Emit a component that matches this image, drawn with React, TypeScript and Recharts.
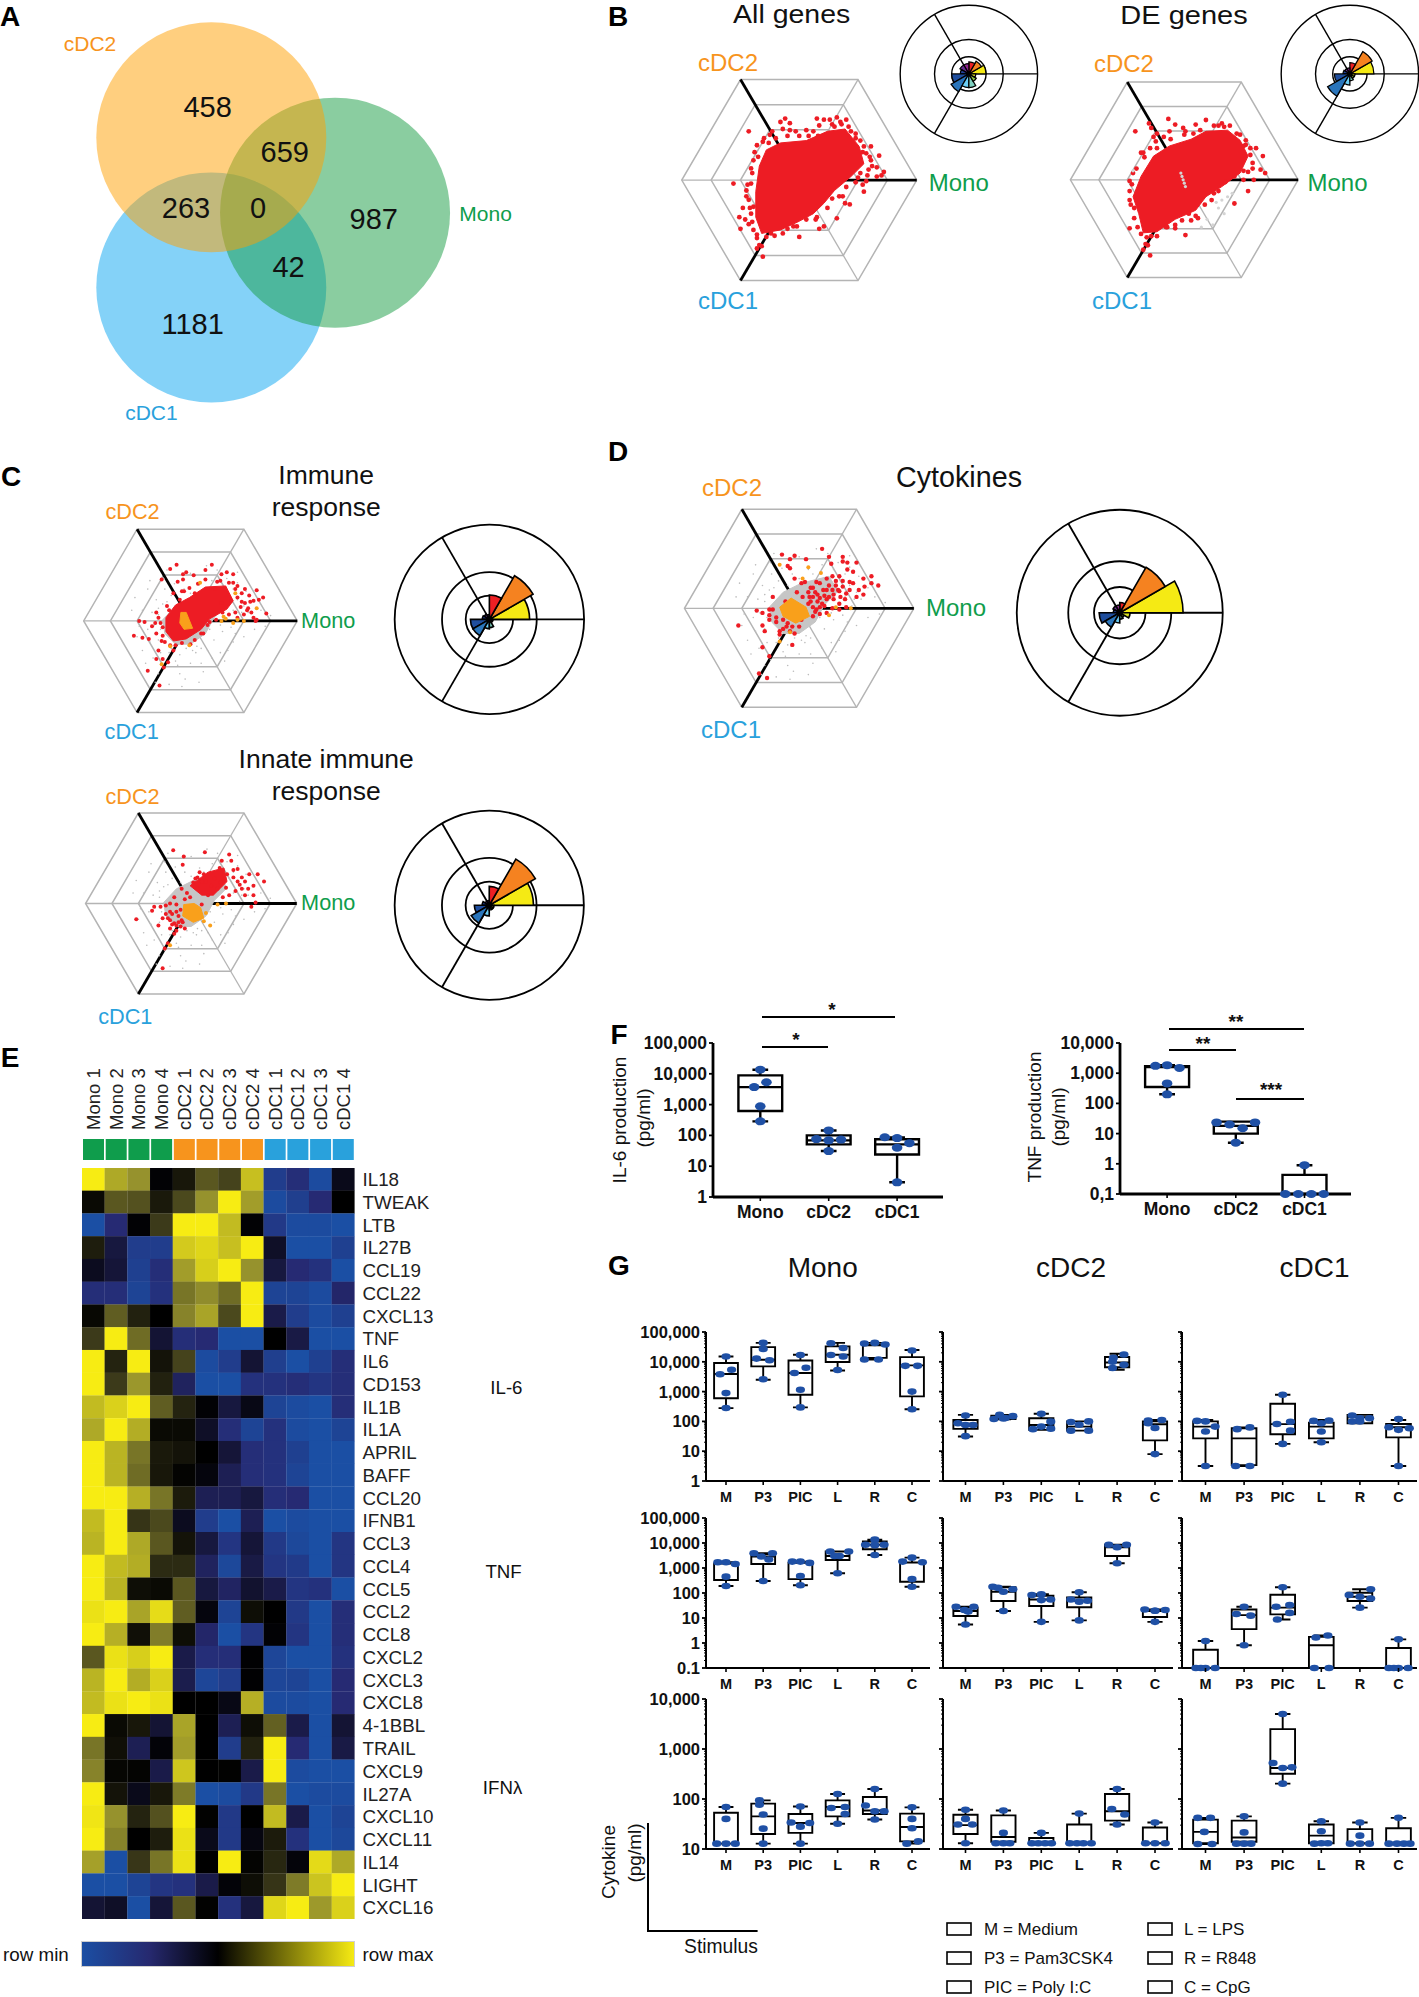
import React from "react"
import { Bar, BarChart, Cell, Pie, PieChart, PolarGrid, Scatter, ScatterChart, XAxis, YAxis } from "recharts"

const FONT = "'Liberation Sans', Arial, sans-serif"
const ORANGE = "#f7941d"
const GREEN = "#0f9d4c"
const BLUE = "#29a1dc"
const RED = "#ed1c24"
const DOT = "#1f50a5"
const HEX_GREY = "#b4b4b4"

// panel A
const vennSets = [
  { name: "cDC1", x: 0, y: -0.65, fill: "#09a5f1" },
  { name: "Mono", x: 1.076, y: 0, fill: "#159b41" },
  { name: "cDC2", x: 0, y: 0.655, fill: "#ff9f00" },
]

// panels B, C, D: gene positions on the triwise hexagon (outer ring = 100)
const allCore = [[-28,26],[-16,32],[6,34],[24,42],[39,44],[51,29],[55,14],[44,3],[30,-9],[21,-20],[12,-29],[-1,-36],[-16,-43],[-32,-46],[-37,-32],[-37,-10],[-34,12]]
const allGenes = [[-12,53],[-16,50],[-8,49],[-14,44],[-23,42],[-25,39],[-31,33],[-43,42],[6,43],[-3,42],[-8,43],[21,52],[35,50],[36,48],[28,48],[17,47],[12,42],[48,40],[52,34],[44,42],[55,29],[61,29],[57,23],[68,21],[61,17],[66,11],[72,7],[70,4],[66,3],[59,9],[52,6],[55,-10],[57,-1],[39,-20],[43,-21],[37,-14],[28,-16],[32,-33],[21,-40],[17,-42],[0,-49],[15,-32],[6,-34],[-5,-40],[-14,-46],[-21,-48],[-32,-57],[-34,-56],[-31,-66],[-36,-59],[-28,-49],[-51,-32],[-50,-42],[-43,-38],[-39,-43],[-36,-47],[-56,-3],[-45,-9],[-43,-17],[-39,-23],[-41,-29],[-41,10],[-38,24],[-36,30],[-30,36],[-45,-14],[-41,-3],[-39,17],[26,52],[15,53],[40,52],[32,54],[-40,-36],[24,-24],[14,-34],[34,-14],[40,-6],[48,-2],[50,2],[54,-4],[58,4],[60,20],[54,24],[48,36],[42,46],[-2,-40],[-10,-42],[-24,-46],[-36,-50],[-42,-24],[-40,6],[-35,20],[-26,32],[-20,36],[-10,38],[0,38],[8,38],[16,38],[30,46],[62,12],[-44,-4],[-48,-24],[-46,-34]]
const deCore = [[-27,21],[-13,30],[6,36],[19,43],[38,44],[49,35],[56,21],[49,6],[33,-6],[19,-15],[10,-27],[-8,-35],[-24,-46],[-36,-47],[-40,-30],[-45,-15],[-38,3]]
const deGenes = [[-14,54],[-8,49],[-31,50],[-29,46],[-24,41],[-25,34],[-43,43],[-27,38],[-13,43],[-1,46],[10,49],[19,53],[33,50],[35,47],[26,48],[49,40],[46,41],[54,31],[63,28],[58,22],[69,21],[60,15],[67,9],[71,6],[56,7],[52,0],[61,0],[56,-10],[44,-21],[30,-10],[24,-18],[12,-34],[6,-36],[1,-49],[-8,-40],[-15,-42],[-24,-50],[-32,-58],[-34,-57],[-30,-67],[-36,-62],[-29,-50],[-48,-43],[-38,-48],[-33,-51],[-48,-18],[-48,-10],[-45,6],[-36,24],[-38,24],[-48,-1],[-44,-25],[-30,28],[-18,38],[1,43],[8,41],[58,28],[54,35],[-35,20],[-42,10],[-46,-4],[-47,-22],[-44,-34],[-41,-42],[-16,-42],[-2,-36],[10,-32],[18,-22],[26,-12],[36,-2],[44,3],[52,8],[60,10],[52,30],[40,48],[30,48],[14,44],[0,40],[-12,36],[-24,28],[-8,-43],[4,-30]]
const nonDeGenes = [[33,-18],[38,-15],[30,-25],[42,-12],[20,-35],[25,-40],[15,-42],[35,-30],[28,-20],[-45,8],[-2,3],[0,-3],[-1,0],[-3,6],[1,-6]]

const greyCore = [[-26,1],[-14,14],[2,22],[26,28],[34,15],[22,3],[14,-12],[0,-22],[-14,-22],[-24,-12]]
const greyGenes = [[-40,30],[-45,10],[-35,-35],[-25,-45],[-10,-50],[0,-40],[10,-40],[20,-35],[28,-30],[-50,-15],[-45,-28],[-30,-50],[-5,-55],[5,-30],[-38,38],[-25,40],[-32,20],[70,-5],[50,-15],[40,-20],[35,-28],[60,-8],[75,5],[-48,-5],[-55,10],[-20,-60],[25,48],[0,45],[-15,35],[-42,-40],[-12,-42],[-28,-30],[12,-48],[-38,-20],[-52,22],[32,-38],[8,-58],[-22,48],[15,52],[44,46],[-8,-62],[-33,-58],[-30,12],[-34,-4],[-30,-18],[-20,-30],[-10,-32],[6,-24],[22,-18],[30,-10],[38,-6],[46,2],[54,8],[60,18],[52,28],[44,36],[34,40],[20,38],[8,34],[-6,30],[-18,24],[-26,16],[-36,8],[-24,30],[-40,-8],[-14,-38],[16,-28],[42,-12],[66,10],[40,30],[30,34],[36,24],[44,20],[50,14],[28,-4],[18,-8],[10,-26],[2,-28],[-4,-26],[-18,-26],[-28,-8],[-30,6],[-22,18],[-10,20],[0,26],[12,30],[40,10],[48,8]]

const immuneCore = [[-23,3],[-14,15],[-1,22],[14,32],[33,33],[40,19],[34,11],[18,2],[10,-8],[-4,-17],[-16,-19],[-23,-10]]
const immuneGenes = [[-13,53],[-19,49],[-4,46],[-7,44],[-27,39],[-12,37],[-7,39],[3,43],[14,48],[20,53],[34,46],[40,44],[29,44],[44,33],[51,30],[62,29],[68,22],[59,19],[64,20],[71,7],[57,8],[62,1],[59,3],[51,17],[55,24],[-43,-1],[-48,0],[-36,-5],[-33,-2],[-53,-14],[-45,-16],[-39,-17],[-32,-12],[-30,-28],[-26,-36],[-32,-36],[-40,-47],[-25,-44],[-21,-39],[-29,-61],[-16,-28],[-19,-23],[-27,-19],[-30,3],[-32,8],[29,17],[44,22],[38,19],[47,13],[53,10],[25,37],[23,30],[14,39],[7,35],[-1,31],[-6,28],[-16,26],[-14,-23],[-8,-21],[12,-12],[18,-1],[24,1],[44,3],[61,0],[42,30],[48,26],[56,18],[36,36],[-26,-14],[-26,-6],[-20,10],[-10,20],[4,26],[10,-12],[4,-18],[30,8],[36,6],[50,6],[28,38],[40,36],[48,18],[54,12],[42,8],[-24,-20],[-28,-2],[-22,14],[-8,28],[0,-22],[16,-4]]
const immuneCyto = [[29,0],[33,2],[44,1],[50,0],[40,-2],[31,4],[62,12],[42,26],[9,36],[-1,-23],[-27,-41],[-19,-24]]
const immuneCytoCore = [[-9,8],[-4,8],[0,-2],[2,-7],[-6,-8],[-10,-2]]

const innateCore = [[-1,17],[16,30],[31,34],[34,21],[21,8],[10,8]]
const innateGenes = [[-17,51],[-8,37],[-7,45],[13,49],[36,47],[38,41],[29,41],[27,34],[44,33],[55,28],[63,28],[69,21],[59,17],[51,21],[48,14],[59,8],[61,1],[57,-3],[-35,-3],[-37,-7],[-52,-15],[-29,-3],[-27,-14],[-31,-21],[-25,-43],[-22,-38],[-16,-29],[-27,-62],[-14,-21],[-9,14],[6,25],[14,21],[6,14],[19,17],[25,14],[33,15],[40,25],[34,28],[-20,-8],[-14,-1],[-9,-16],[-16,-19],[10,21],[16,8],[10,-1],[-1,6],[-16,6],[44,21],[48,25],[51,8],[-22,-14],[-18,-20],[-10,-6],[-24,-2],[-12,-12],[-6,4],[22,24],[28,20],[-18,-10],[-12,-18],[-20,0],[-8,-18],[-4,10],[2,20],[12,28],[42,12],[36,8],[30,6],[-24,-10],[-20,-16],[-14,-8],[-20,-24],[-14,-26],[-10,-22],[-6,-24],[4,24],[8,30],[40,32],[46,18],[54,14]]
const innateCyto = [[18,-21],[25,-1],[33,0],[-20,-40],[12,-17],[14,-9]]
const innateCytoCore = [[-7,-1],[3,0],[9,-4],[12,-14],[2,-18],[-8,-12]]

const cytokineCytoCore = [[-17,1],[-7,9],[6,1],[9,-7],[-3,-13],[-14,-7]]
const cytokineGenes = [[20,52],[-15,47],[-4,46],[-8,43],[6,43],[-10,37],[-8,35],[26,45],[28,39],[38,45],[38,41],[42,40],[50,40],[42,34],[35,28],[29,28],[47,32],[56,26],[63,28],[69,20],[63,22],[57,19],[47,22],[44,23],[38,19],[41,13],[56,12],[50,10],[35,15],[29,16],[21,16],[15,23],[2,22],[-4,26],[5,23],[12,10],[18,9],[9,10],[3,10],[12,1],[15,-1],[12,-7],[-23,10],[-23,-1],[-37,-2],[-32,-4],[-26,-1],[-53,-15],[-32,-15],[-30,-20],[-26,-10],[-20,-12],[-14,-10],[-10,-13],[2,-10],[-17,-20],[-11,-16],[-6,-16],[-32,-34],[-6,-32],[-26,-42],[-35,-57],[-28,-61],[-17,-23],[35,-1],[41,1],[24,-4],[29,0],[35,4],[18,1],[10,6],[16,6],[22,11],[26,20],[14,14],[20,4],[24,8],[30,12],[8,14],[14,-3],[18,-5],[10,18],[16,12],[24,16],[32,20],[36,10],[44,16],[52,16],[30,8],[22,2],[8,4],[-2,14],[-12,6],[-20,-8],[-26,-6],[-14,-18],[-8,-20],[-4,-22],[0,-16],[26,10],[18,22],[12,18],[24,26],[32,24],[38,24],[40,8],[34,16]]
const cytokineOrange = [[8,36],[3,26],[-17,38],[26,-6],[45,0],[32,1],[-17,-29],[-8,-21],[19,31]]

// rose plots, twelve 30 degree sectors counter-clockwise from Mono
const sectorColors = ["#f5ea14", "#f58220", "#ed2024", "#92278f", "#662d91", "#21409a", "#1f4e9e", "#2a75bb", "#6dcff6", "#7fd1c0", "#8dc63f", "#d7df23"]
const roseAll = [1.0, 0.85, 0.7, 0.6, 0.6, 0.5, 1.0, 1.2, 0.8, 0.8, 0.5, 0.4]
const roseDe = [1.4, 1.5, 0.65, 0.35, 0.35, 0.4, 0.9, 1.5, 0.65, 0.4, 0.3, 0.3]
const roseImmune = [1.7, 2.13, 1.03, 0.2, 0.25, 0.3, 0.8, 0.8, 0.4, 0.35, 0.15, 0.15]
const roseInnate = [1.87, 2.25, 0.8, 0.2, 0.2, 0.3, 0.63, 0.88, 0.45, 0.2, 0.2, 0.2]
const roseCytokine = [2.46, 2.04, 0.4, 0.3, 0.3, 0.25, 0.8, 0.65, 0.4, 0.25, 0.2, 0.4]

// panel E
const genes = ["IL18","TWEAK","LTB","IL27B","CCL19","CCL22","CXCL13","TNF","IL6","CD153","IL1B","IL1A","APRIL","BAFF","CCL20","IFNB1","CCL3","CCL4","CCL5","CCL2","CCL8","CXCL2","CXCL3","CXCL8","4-1BBL","TRAIL","CXCL9","IL27A","CXCL10","CXCL11","IL14","LIGHT","CXCL16"]
const samples = ["Mono 1","Mono 2","Mono 3","Mono 4","cDC2 1","cDC2 2","cDC2 3","cDC2 4","cDC1 1","cDC1 2","cDC1 3","cDC1 4"]
const sampleColors = [GREEN, GREEN, GREEN, GREEN, ORANGE, ORANGE, ORANGE, ORANGE, BLUE, BLUE, BLUE, BLUE]
const expression = [
  [1,.7,.6,-.02,.12,.4,.33,.8,-.75,-.55,-.95,-.1],
  [.05,.4,.38,.13,.35,.6,1,.65,-.95,-.78,-.5,0],
  [-1,-.5,-.02,.3,1,1,.78,-.02,-.7,-.95,-.95,-1],
  [.15,-.25,-.75,-.75,.85,.9,.8,1,-.15,-1,-1,-.8],
  [-.12,-.22,-.8,-.55,.65,.87,1,.6,-.25,-.5,-.6,-1],
  [-.55,-.55,-.85,-.6,.5,.58,.47,1,-.85,-.85,-.95,-.45],
  [.04,.42,.17,0,.55,.68,.35,1,-.3,-.75,-.95,-.8],
  [.3,1,.47,-.2,-.55,-.5,-1,-1,0,-.28,-1,-1],
  [1,.18,1,.1,.33,-.95,-.75,-.2,-.78,-1,-.8,-.55],
  [1,.3,.62,.17,-.4,-1,-1,-.6,-.6,-.55,-.65,-.55],
  [.78,.88,1,.42,.18,-.02,-.25,-.08,-.85,-.95,-1,-.55],
  [.7,1,.72,.05,.05,-.15,-.55,-.85,-.6,-.95,-1,-.85],
  [1,.75,.5,.13,.1,0,-.22,-.55,-.6,-.8,-1,-1],
  [1,.75,.47,.12,.02,-.05,-.35,-.55,-.6,-.85,-1,-1],
  [1,1,.73,.5,.14,-.35,-.35,-.25,-.55,-.5,-1,-1],
  [.78,1,.27,.35,-.12,-.75,-1,-.35,-1,-.95,-1,-1],
  [.75,1,.7,.4,.1,-.25,-.65,-.22,-.7,-.9,-1,-.65],
  [1,.78,.72,.22,.22,-.4,-.9,-.28,-.65,-.72,-1,-.65],
  [1,.75,.07,.05,.4,-.25,-.42,-.18,-.3,-.65,-.6,-1],
  [.95,1,.68,.93,.42,-.05,-.85,.07,0,-.7,-1,-.55],
  [1,.73,.08,.53,.07,-.45,-1,-.65,-.02,-.65,-1,-.55],
  [.4,.95,.87,1,-.3,-.55,-.55,-.01,-.88,-1,-1,-.6],
  [.75,1,.72,.88,-.32,-.88,-.75,-.01,-.88,-.85,-1,-.5],
  [.78,.95,1,.95,0,0,-.08,.73,-.95,-.95,-1,-.5],
  [1,.05,.12,-.2,.68,0,-.35,.07,.43,-.3,-1,-.2],
  [.5,.08,-.35,-.03,.65,0,-.75,.17,1,-.5,-1,-.28],
  [.55,.03,.02,-.3,.83,0,.01,-.3,1,-.95,-1,-1],
  [1,.1,-.1,.12,.52,-1,-.95,-.7,.5,-1,-.95,-.95],
  [.97,.6,.18,.38,1,.01,-.7,0,.78,-.3,-1,-.85],
  [1,.55,0,.15,.95,-.1,-.7,-.06,.14,-.6,-1,-.9],
  [.66,-1,.28,.5,.95,0,1,.02,.2,-.04,.92,.7],
  [-1,-1,-.85,-.65,-.6,-.3,-.03,.07,.27,.52,.82,1],
  [-.2,-.15,-1,-.22,.4,.01,-.6,-.25,.9,1,.63,.88],
]

// panels F, G: [min, q1, median, q3, max, [[offset, value], ...]]
const cellTypes = ["Mono", "cDC2", "cDC1"]
const stimuli = ["M", "P3", "PIC", "L", "R", "C"]
const il6Total = [
  [286,620,3700,8900,13600,[[0,13600],[.09,5300],[-.09,3700],[0,880],[0,286]]],
  [31,51,69,100,145,[[0,145],[-.18,76],[.18,73],[0,69],[0,31]]],
  [3,24,51,75,85,[[-.18,87],[0,82],[.18,56],[0,40],[0,3]]],
]
const tnfTotal = [
  [200,350,1600,1700,1850,[[-.17,1750],[0,1850],[.18,1500],[0,460],[0,200]]],
  [5,10,18,25,25,[[-.28,23.5],[.28,23.5],[-.09,20],[.1,15],[0,5]]],
  [.1,.1,.1,.43,.9,[[0,.9],[-.28,.1],[-.09,.1],[.1,.1],[.28,.1]]],
]
const il6Mono = [
  [280,600,3900,9100,15000,[[0,15000],[.15,5400],[-.16,3800],[0,890],[0,280]]],
  [2500,7000,11700,31000,43000,[[0,43000],[0,27000],[-.18,12800],[.17,11300],[0,2600]]],
  [295,780,4200,11000,17300,[[0,17000],[.15,6300],[-.16,4200],[0,1150],[0,295]]],
  [5100,9800,17300,33000,43000,[[-.18,42000],[.15,29000],[-.18,17000],[.15,15000],[0,5300]]],
  [12000,13500,36000,37000,43000,[[-.28,41000],[0,43000],[.28,38000],[-.28,12000],[.1,12000]]],
  [257,690,7600,14400,25000,[[0,24000],[-.18,7300],[.15,7300],[0,1000],[0,257]]],
]
const il6Cdc2 = [
  [31,56,83,112,165,[[0,158],[-.2,87],[.2,76],[0,76],[0,32]]],
  [118,120,140,155,165,[[-.25,120],[-.1,165],[.05,130],[.25,150],[0,125]]],
  [52,52,76,128,180,[[0,180],[.25,98],[-.22,55],[0,67],[.25,57]]],
  [49,49,67,100,100,[[-.22,95],[.25,100],[0,77],[-.22,49],[.25,49]]],
  [5400,6600,9500,14500,18700,[[.18,17500],[-.1,13500],[-.12,6200],[.18,7900],[-.12,10000]]],
  [8,23,80,100,112,[[-.18,107],[.18,112],[0,60],[0,8],[-.18,87]]],
]
const il6Cdc1 = [
  [3.2,27,67,100,112,[[-.22,104],[0,100],[.25,67],[0,46],[0,3.2]]],
  [3.2,3.4,27,59,63,[[-.18,55],[.15,63],[-.22,3.2],[.15,3.2]]],
  [17.6,37,81,390,780,[[0,780],[-.15,82],[.2,97],[.2,49],[0,17.6]]],
  [20,27,67,91,112,[[-.2,104],[.2,107],[0,46],[0,20],[0,87]]],
  [87,87,139,165,165,[[-.2,158],[0,127],[.25,127],[-.2,99],[0,99]]],
  [3.2,29,64,82,112,[[0,121],[-.25,64],[.28,59],[0,52],[0,3.2]]],
]
const tnfMono = [
  [190,330,1500,1500,1700,[[-.22,1700],[0,1700],[.25,1450],[0,450],[0,190]]],
  [300,1450,2900,3600,3900,[[-.25,3900],[.25,3900],[-.05,2900],[.15,2200],[0,300]]],
  [205,360,1600,1600,1800,[[-.22,1800],[0,1800],[.25,1600],[0,480],[0,205]]],
  [620,2100,3000,4600,4600,[[-.2,4600],[.05,3000],[-.08,3000],[.3,4600],[0,620]]],
  [3300,5600,8500,11500,13600,[[0,13600],[-.25,8500],[.25,8500],[0,8200],[0,3300]]],
  [178,280,1650,1650,2600,[[0,2600],[-.25,1800],[.28,1700],[0,360],[0,178]]],
]
const tnfCdc2 = [
  [5.5,12,19,26,28,[[-.25,28],[-.03,21],[.22,28],[.07,18],[0,5.5]]],
  [19,48,112,170,178,[[-.28,178],[0,112],[.25,141],[-.14,160],[0,19]]],
  [7,30,55,78,89,[[-.25,83],[0,89],[0,52],[.25,55],[0,7]]],
  [8,27,49,66,107,[[0,107],[-.22,55],[.22,49],[0,45],[0,8]]],
  [1550,3000,6800,8500,8500,[[-.22,8500],[.25,8500],[0,6800],[0,1550]]],
  [7,11,19,21,22,[[-.27,22],[0,19.5],[.27,21],[0,7],[0,19.5]]],
]
const tnfCdc1 = [
  [.1,.1,.1,.54,1.2,[[0,1.2],[-.25,.1],[.25,.1],[0,.1],[-.12,.1]]],
  [.81,3.6,13,22,28,[[0,28],[-.2,14.5],[.17,12.4],[0,.81]]],
  [8.7,14,26,85,170,[[0,170],[-.17,28],[.18,33],[.18,16],[-.14,8.7]]],
  [.1,.1,.81,1.75,2,[[-.14,1.66],[.17,2],[-.18,.1],[.2,.1]]],
  [26,48,71,102,141,[[-.28,83],[.28,141],[.28,60],[0,71],[0,26]]],
  [.1,.1,.1,.63,1.4,[[0,1.4],[-.25,.1],[0,.1],[.25,.1],[-.12,.1]]],
]
const ifnMono = [
  [12.8,12.8,12.8,53,69,[[0,69],[0,40],[-.25,12.8],[0,12.8],[.25,12.8]]],
  [12.8,20,45,81,94,[[-.1,94],[0,49],[0,25.5],[0,12.8],[-.1,77]]],
  [12.8,21,33,50,71,[[0,71],[-.25,34],[.25,33],[0,28],[0,12.8]]],
  [32,45,69,94,126,[[0,126],[-.17,66],[.2,69],[.2,50],[0,32]]],
  [39,50,59,110,158,[[0,158],[-.25,74],[.25,57],[0,57],[0,39]]],
  [12.8,14.2,27.6,51,68,[[0,68],[0,40],[0,26],[-.14,12.8],[.17,14.2]]],
]
const ifnCdc2 = [
  [13,20,30,48.5,61,[[0,61],[0,40],[-.2,31],[.18,31],[0,13]]],
  [13,14,17.4,47,59,[[0,59],[0,21],[-.2,13],[.17,13],[0,13]]],
  [13,13,13,16.6,21,[[0,21],[-.25,13],[-.08,13],[.1,13],[.27,13]]],
  [13,13,13,31,51,[[0,51],[-.25,13],[-.06,13],[.11,13],[.32,13]]],
  [31,37,57,126,158,[[0,158],[-.14,63],[.2,49],[0,31]]],
  [13,13,13,27,34,[[0,34],[-.25,13],[0,13],[.27,13]]],
]
const ifnCdc1 = [
  [12.6,13,22,38.7,42,[[-.2,42],[.13,42],[-.03,22],[-.2,12.6],[.17,12.6]]],
  [12.8,14,17,37,45,[[0,45],[0,21.5],[-.2,12.8],[.18,12.8],[0,12.8]]],
  [203,320,417,2500,5000,[[0,5000],[-.25,525],[0,417],[.24,430],[0,203]]],
  [12.8,13,18.5,31,36,[[0,36],[0,22.6],[-.18,12.8],[.17,13],[0,13]]],
  [12.8,13,13,25,34,[[0,34],[0,18.5],[-.25,12.8],[0,12.8],[.25,12.8]]],
  [12.8,13,13,26,42,[[0,42],[-.25,12.8],[-.04,12.8],[.14,12.8],[.3,12.8]]],
]

const pts = (list) => list.map(([x, y]) => ({ x, y }))
const noMark = () => null
const dotShape = (r, fill) => (p) => <circle cx={p.cx} cy={p.cy} r={r} fill={fill} />
const ovalShape = (rx, ry, fill) => (p) => <ellipse cx={p.cx} cy={p.cy} rx={rx} ry={ry} fill={fill} />

function T({ x, y, size = 21, fill = "#111", sx = 1, anchor = "middle", weight = 400, rot = 0, children }) {
  return (
    <text transform={`translate(${x} ${y}) rotate(${rot}) scale(${sx} 1)`} fontFamily={FONT} fontSize={size} fill={fill} fontWeight={weight} textAnchor={anchor} dominantBaseline="central">
      {children}
    </text>
  )
}

function Place({ left, top, children }) {
  return <div style={{ position: "absolute", left, top }}>{children}</div>
}

function Venn() {
  return (
    <Place left={0} top={0}>
      <ScatterChart width={520} height={430} margin={{ top: 0, right: 0, bottom: 0, left: 0 }}>
        <XAxis hide type="number" dataKey="x" domain={[-1.837, 2.684]} />
        <YAxis hide type="number" dataKey="y" domain={[-1.89, 1.849]} />
        {vennSets.map((s) => (
          <Scatter key={s.name} data={[s]} isAnimationActive={false} shape={(p) => <circle cx={p.cx} cy={p.cy} r={115} fill={s.fill} fillOpacity={0.5} />} />
        ))}
      </ScatterChart>
    </Place>
  )
}

const hexUnit = [[1,0],[.5,.866],[-.5,.866],[-1,0],[-.5,-.866],[.5,-.866],[1,0]]
const hexRings = [50, 75, 100]
const hexSpokes = [[1,0],[-.5,.866],[-.5,-.866]]

function Triwise({ cx, cy, halfW, halfH, r, grey, greyPoly, core, red, orange, orangeCore, orangeR = 2, top }) {
  const kx = halfW / 100
  const ky = halfH / 86.6
  return (
    <Place left={cx - 110 * kx} top={cy - 100 * ky}>
      <ScatterChart width={220 * kx} height={200 * ky} margin={{ top: 0, right: 0, bottom: 0, left: 0 }}>
        <XAxis hide type="number" dataKey="x" domain={[-110, 110]} />
        <YAxis hide type="number" dataKey="y" domain={[-100, 100]} />
        {hexRings.map((ring) => (
          <Scatter key={ring} data={pts(hexUnit.map(([a, b]) => [a * ring, b * ring]))} isAnimationActive={false} shape={noMark} line={{ stroke: HEX_GREY, strokeWidth: 1.5 }} />
        ))}
        {hexSpokes.map(([a, b], i) => (
          <Scatter key={"thin" + i} data={pts([[0, 0], [-a * 100, -b * 100]])} isAnimationActive={false} shape={noMark} line={{ stroke: HEX_GREY, strokeWidth: 1.3 }} />
        ))}
        {hexSpokes.map(([a, b], i) => (
          <Scatter key={"axis" + i} data={pts([[0, 0], [a * 100, b * 100]])} isAnimationActive={false} shape={noMark} line={{ stroke: "#000", strokeWidth: 2.8 }} />
        ))}
        {greyPoly && <Scatter data={pts([...greyPoly, greyPoly[0]])} isAnimationActive={false} shape={noMark} line={{ stroke: "#c6c6c6", fill: "#c6c6c6", strokeWidth: 1 }} />}
        {grey && <Scatter data={pts(grey)} isAnimationActive={false} shape={dotShape(0.8, "#bcbcbc")} />}
        {core && <Scatter data={pts([...core, core[0]])} isAnimationActive={false} shape={noMark} line={{ stroke: RED, fill: RED, strokeWidth: 1 }} />}
        <Scatter data={pts(red)} isAnimationActive={false} shape={dotShape(r, RED)} />
        {orangeCore && <Scatter data={pts([...orangeCore, orangeCore[0]])} isAnimationActive={false} shape={noMark} line={{ stroke: "#f9a01b", fill: "#f9a01b", strokeWidth: 1 }} />}
        {orange && <Scatter data={pts(orange)} isAnimationActive={false} shape={dotShape(orangeR, "#f9a01b")} />}
        {top && <Scatter data={pts(top)} isAnimationActive={false} shape={dotShape(1.6, "#d4d4d4")} />}
      </ScatterChart>
    </Place>
  )
}

// PolarGrid spokes run to 80% of the chart's radius, so the chart is sized to make that the outer ring
function Rose({ cx, cy, R, lengths, lw = 1.8 }) {
  const ring = R / 4
  const size = 2.5 * R
  return (
    <Place left={cx - size / 2} top={cy - size / 2}>
      <PieChart width={size} height={size} margin={{ top: 0, right: 0, bottom: 0, left: 0 }}>
        <PolarGrid cx={size / 2} cy={size / 2} innerRadius={0} outerRadius={R} gridType="circle" polarRadius={[ring, ring * 2, R]} polarAngles={[0, 120, 240]} stroke="#000" strokeWidth={lw} />
        {lengths.map((len, i) => (
          <Pie key={i} data={[{ v: len }]} dataKey="v" cx={size / 2} cy={size / 2} innerRadius={0} outerRadius={len * ring} startAngle={i * 30} endAngle={(i + 1) * 30} fill={sectorColors[i]} stroke="#000" strokeWidth={lw * 0.9} isAnimationActive={false} />
        ))}
      </PieChart>
    </Place>
  )
}

const heatStops = [
  [0, [0, 0, 0]],
  [0.2, [20, 20, 52]],
  [0.5, [38, 42, 115]],
  [1, [27, 79, 164]],
]
const heatStopsHigh = [
  [0, [0, 0, 0]],
  [0.3, [60, 58, 26]],
  [0.6, [150, 146, 45]],
  [1, [247, 236, 19]],
]
const heatColor = (v) => {
  const stops = v >= 0 ? heatStopsHigh : heatStops
  const t = Math.abs(v)
  let i = 0
  while (i < stops.length - 2 && t > stops[i + 1][0]) i++
  const [t0, c0] = stops[i]
  const [t1, c1] = stops[i + 1]
  const f = (t - t0) / (t1 - t0)
  return `rgb(${c0.map((c, k) => Math.round(c + (c1[k] - c) * f)).join(",")})`
}

const heatCells = expression.flatMap((row, y) => row.map((v, x) => ({ x, y, v })))

function Heatmap() {
  return (
    <>
      <Place left={82} top={1060}>
        <BarChart width={272.5} height={100} data={samples.map((name, i) => ({ name, v: 1, i }))} margin={{ top: 0, right: 0, bottom: 0, left: 0 }} barCategoryGap={1}>
          <XAxis
            orientation="top"
            dataKey="name"
            height={79}
            axisLine={false}
            tickLine={false}
            interval={0}
            tickSize={0}
            tickMargin={0}
            tick={(p) => (
              <text transform={`translate(${p.x} ${p.y - 9}) rotate(-90)`} fontFamily={FONT} fontSize={18.5} fill="#222" textAnchor="start" dominantBaseline="central">
                {p.payload.value}
              </text>
            )}
          />
          <YAxis hide domain={[0, 1]} />
          <Bar dataKey="v" isAnimationActive={false}>
            {samples.map((name, i) => (
              <Cell key={name} fill={sampleColors[i]} />
            ))}
          </Bar>
        </BarChart>
      </Place>
      <Place left={82} top={1168}>
        <ScatterChart width={382.5} height={751} margin={{ top: 0, right: 0, bottom: 0, left: 0 }}>
          <XAxis hide type="number" dataKey="x" domain={[-0.5, 11.5]} />
          <YAxis
            orientation="right"
            type="number"
            dataKey="y"
            reversed
            width={110}
            domain={[-0.5, 32.5]}
            ticks={genes.map((_, i) => i)}
            interval={0}
            axisLine={false}
            tickLine={false}
            tickSize={0}
            tickMargin={8}
            tickFormatter={(i) => genes[i]}
            tick={{ fontSize: 18.8, fill: "#222", fontFamily: FONT }}
          />
          <Scatter data={heatCells} isAnimationActive={false} shape={(p) => <rect x={p.cx - 11.45} y={p.cy - 11.5} width={22.9} height={23} fill={heatColor(p.v)} />} />
        </ScatterChart>
      </Place>
      <Place left={81} top={1941}>
        <BarChart width={274} height={26} data={[{ v: 1 }]} margin={{ top: 0, right: 0, bottom: 0, left: 0 }} barCategoryGap={0}>
          <defs>
            <linearGradient id="rowScale" x1="0" x2="1" y1="0" y2="0">
              <stop offset="0" stopColor="#1b4fa4" />
              <stop offset="0.25" stopColor="#26296f" />
              <stop offset="0.5" stopColor="#000" />
              <stop offset="1" stopColor="#f7ec13" />
            </linearGradient>
          </defs>
          <XAxis hide />
          <YAxis hide domain={[0, 1]} />
          <Bar dataKey="v" fill="url(#rowScale)" stroke="#cfcfcf" strokeWidth={2} isAnimationActive={false} />
        </BarChart>
      </Place>
    </>
  )
}

// one continuous outline of whiskers, caps, box and median
function boxOutline(i, [lo, q1, med, q3, hi], w, c) {
  return [
    [i - c, lo], [i + c, lo], [i, lo], [i, q1], [i - w, q1], [i - w, med], [i + w, med], [i - w, med], [i - w, q3], [i, q3], [i, hi],
    [i - c, hi], [i + c, hi], [i, hi], [i, q3], [i + w, q3], [i + w, q1], [i, q1],
  ]
}

const isMajor = (v) => Math.abs(Math.log10(v) - Math.round(Math.log10(v))) < 1e-6

function logTicks(min, max) {
  const out = []
  for (let d = min; d < max * 0.99; d *= 10) {
    for (let m = 1; m < 10; m++) out.push(+(d * m).toPrecision(3))
  }
  out.push(max)
  return out
}

const tickText = (v, comma) => {
  if (v < 1) return comma ? "0,1" : "0.1"
  return v.toLocaleString("en-US")
}

function BoxPanel({ axisX, endX, firstX, stepX, top, bottom, domain, labels, cats, boxes, comma, big, minor = true }) {
  const pad = 90
  const headroom = 14
  const fontY = big ? 17.5 : 16.5
  const fontX = big ? 17.5 : 14.5
  const ticks = minor ? logTicks(domain[0], domain[1]) : logTicks(domain[0], domain[1]).filter(isMajor)
  const w = 0.32
  const c = big ? 0.115 : 0.2
  const lw = big ? 2.4 : 1.9
  return (
    <Place left={axisX - pad} top={top - headroom}>
      <ScatterChart width={pad + endX - axisX} height={bottom - top + headroom + 30} margin={{ top: headroom, right: 0, bottom: 0, left: 0 }}>
        <XAxis
          type="number"
          dataKey="x"
          height={30}
          domain={[(axisX - firstX) / stepX, (endX - firstX) / stepX]}
          ticks={cats.map((_, i) => i)}
          interval={0}
          tickSize={0}
          tickMargin={0}
          tickLine={false}
          axisLine={{ stroke: "#000", strokeWidth: big ? 2.8 : 2 }}
          tick={(p) => (
            <g>
              <line x1={p.x} x2={p.x} y1={p.y} y2={p.y + 4} stroke="#000" strokeWidth={1.6} />
              <text x={p.x} y={p.y + 15.5} fontFamily={FONT} fontSize={fontX} fontWeight={700} fill="#111" textAnchor="middle" dominantBaseline="central">
                {cats[p.payload.value]}
              </text>
            </g>
          )}
        />
        <YAxis
          type="number"
          dataKey="y"
          scale="log"
          width={pad}
          domain={domain}
          ticks={ticks}
          interval={0}
          tickSize={0}
          tickMargin={0}
          tickLine={false}
          axisLine={{ stroke: "#000", strokeWidth: big ? 2.8 : 2 }}
          tick={(p) => {
            const major = isMajor(p.payload.value)
            return (
              <g>
                <line x1={p.x - (major ? 4 : 2)} x2={p.x} y1={p.y} y2={p.y} stroke="#000" strokeWidth={major ? 1.8 : 1} />
                {labels && major && (
                  <text x={p.x - 6} y={p.y} fontFamily={FONT} fontSize={fontY} fontWeight={700} fill="#111" textAnchor="end" dominantBaseline="central">
                    {tickText(p.payload.value, comma)}
                  </text>
                )}
              </g>
            )
          }}
        />
        {boxes.map((b, i) => (
          <Scatter key={"box" + i} data={pts(boxOutline(i, b, w, c))} isAnimationActive={false} shape={noMark} line={{ stroke: "#000", strokeWidth: lw }} />
        ))}
        {boxes.map((b, i) => (
          <Scatter key={"dots" + i} data={pts(b[5].map(([o, v]) => [i + o, v]))} isAnimationActive={false} shape={big ? ovalShape(5.3, 4, DOT) : ovalShape(4.6, 3.3, DOT)} />
        ))}
      </ScatterChart>
    </Place>
  )
}

const columns = [
  { axisX: 706, endX: 930, firstX: 726, stepX: 37.2, labels: true },
  { axisX: 943, endX: 1173, firstX: 965.5, stepX: 37.9, labels: false },
  { axisX: 1181.5, endX: 1417, firstX: 1205, stepX: 38.6, labels: false },
]
const rows = [
  { top: 1332, bottom: 1481, domain: [1, 100000], data: [il6Mono, il6Cdc2, il6Cdc1] },
  { top: 1518, bottom: 1668, domain: [0.1, 100000], data: [tnfMono, tnfCdc2, tnfCdc1] },
  { top: 1699, bottom: 1849, domain: [10, 10000], data: [ifnMono, ifnCdc2, ifnCdc1] },
]

const legendLeft = ["M = Medium", "P3 = Pam3CSK4", "PIC = Poly I:C"]
const legendRight = ["L = LPS", "R = R848", "C = CpG"]

function Annotations() {
  const swatch = (x, y) => <rect x={x} y={y - 6} width={24} height={12} fill="none" stroke="#000" strokeWidth={1.6} />
  const bar = (x1, x2, y) => <line x1={x1} x2={x2} y1={y} y2={y} stroke="#000" strokeWidth={2} />
  return (
    <svg width={1419} height={1997} style={{ position: "absolute", left: 0, top: 0, pointerEvents: "none" }}>
      <T x={10} y={16} size={28} weight={700} fill="#000">A</T>
      <T x={618} y={16} size={28} weight={700} fill="#000">B</T>
      <T x={11} y={476} size={28} weight={700} fill="#000">C</T>
      <T x={618} y={451} size={28} weight={700} fill="#000">D</T>
      <T x={10} y={1057} size={28} weight={700} fill="#000">E</T>
      <T x={619} y={1034} size={28} weight={700} fill="#000">F</T>
      <T x={619} y={1265} size={28} weight={700} fill="#000">G</T>

      <T x={90} y={43} fill={ORANGE}>cDC2</T>
      <T x={485.6} y={213} fill={GREEN}>Mono</T>
      <T x={151.4} y={412} fill={BLUE}>cDC1</T>
      <T x={207.6} y={107} size={29}>458</T>
      <T x={284.7} y={152} size={29}>659</T>
      <T x={186} y={208} size={29}>263</T>
      <T x={258} y={208} size={29}>0</T>
      <T x={373.7} y={219} size={29}>987</T>
      <T x={288.6} y={267} size={29}>42</T>
      <T x={192.6} y={324} size={29}>1181</T>

      <T x={791.7} y={15} size={25} sx={1.14}>All genes</T>
      <T x={1184} y={15} size={25} sx={1.16}>DE genes</T>
      <T x={728} y={62} size={24} fill={ORANGE}>cDC2</T>
      <T x={958.8} y={182} size={24} fill={GREEN}>Mono</T>
      <T x={728} y={300} size={24} fill={BLUE}>cDC1</T>
      <T x={1123.9} y={63} size={24} fill={ORANGE}>cDC2</T>
      <T x={1337.5} y={182} size={24} fill={GREEN}>Mono</T>
      <T x={1122} y={300} size={24} fill={BLUE}>cDC1</T>

      <T x={326.2} y={475} size={26.5}>Immune</T>
      <T x={326.2} y={507.4} size={26.5}>response</T>
      <T x={326.2} y={759.2} size={26.5}>Innate immune</T>
      <T x={326.2} y={791.4} size={26.5}>response</T>
      <T x={132.5} y={511.2} size={21.7} fill={ORANGE}>cDC2</T>
      <T x={328.2} y={620.3} size={21.7} fill={GREEN}>Mono</T>
      <T x={131.7} y={731.3} size={21.7} fill={BLUE}>cDC1</T>
      <T x={132.5} y={796.3} size={21.7} fill={ORANGE}>cDC2</T>
      <T x={328.2} y={902.7} size={21.7} fill={GREEN}>Mono</T>
      <T x={125.3} y={1016.4} size={21.7} fill={BLUE}>cDC1</T>

      <T x={959} y={477} size={28.7}>Cytokines</T>
      <T x={732} y={487} size={24} fill={ORANGE}>cDC2</T>
      <T x={956} y={607} size={24} fill={GREEN}>Mono</T>
      <T x={731} y={729} size={24} fill={BLUE}>cDC1</T>

      <T x={506.4} y={1387} size={18.7}>IL-6</T>
      <T x={503.6} y={1571} size={18.7}>TNF</T>
      <T x={502.5} y={1787} size={18.7}>IFNλ</T>
      <T x={3} y={1954} size={18.8} anchor="start">row min</T>
      <T x={362.5} y={1954} size={18.8} anchor="start">row max</T>

      <T x={619} y={1120} size={19} rot={-90}>IL-6 production</T>
      <T x={643} y={1118} size={19} rot={-90}>(pg/ml)</T>
      <T x={1034} y={1117} size={19} rot={-90}>TNF production</T>
      <T x={1058} y={1117} size={19} rot={-90}>(pg/ml)</T>
      {bar(762, 895, 1017)}
      {bar(762, 828, 1047)}
      <T x={832} y={1009} size={19} weight={700}>*</T>
      <T x={796} y={1039} size={19} weight={700}>*</T>
      {bar(1169, 1304, 1029)}
      {bar(1169, 1236, 1050)}
      {bar(1236, 1304, 1099)}
      <T x={1236} y={1021} size={19} weight={700}>**</T>
      <T x={1203} y={1043} size={19} weight={700}>**</T>
      <T x={1271} y={1089} size={19} weight={700}>***</T>

      {cellTypes.map((c, i) => (
        <T key={c} x={[822.7, 1071, 1314.5][i]} y={1267} size={28}>{c}</T>
      ))}

      <T x={608.5} y={1862} size={19} rot={-90}>Cytokine</T>
      <T x={634} y={1853} size={19} rot={-90}>(pg/ml)</T>
      <polyline points="648,1823 648,1931 757.6,1931" fill="none" stroke="#000" strokeWidth={2} />
      <T x={721} y={1946} size={19.3}>Stimulus</T>
      {legendLeft.map((t, i) => (
        <g key={t}>
          {swatch(947, 1929 + i * 29)}
          <T x={984} y={1929 + i * 29} size={17} anchor="start">{t}</T>
        </g>
      ))}
      {legendRight.map((t, i) => (
        <g key={t}>
          {swatch(1148, 1929 + i * 29)}
          <T x={1184} y={1929 + i * 29} size={17} anchor="start">{t}</T>
        </g>
      ))}
    </svg>
  )
}

export default function App() {
  return (
    <div style={{ position: "absolute", left: 0, top: 0, width: 1419, height: 1997, background: "#fff", overflow: "hidden" }}>
      <Venn />
      <Triwise cx={799.6} cy={180} halfW={117.5} halfH={100.5} r={2.4} core={allCore} red={allGenes} />
      <Triwise cx={1183.9} cy={180} halfW={113.9} halfH={97.7} r={2.4} core={deCore} red={deGenes} top={nonDeGenes} />
      <Rose cx={969.3} cy={73.5} R={68.7} lengths={roseAll} lw={1.4} />
      <Rose cx={1349.5} cy={73.5} R={68.7} lengths={roseDe} lw={1.4} />

      <Triwise cx={190.6} cy={620.8} halfW={106.8} halfH={91.7} r={2} grey={greyGenes} greyPoly={greyCore} core={immuneCore} red={immuneGenes} orange={immuneCyto} orangeCore={immuneCytoCore} />
      <Triwise cx={191} cy={904} halfW={105.6} halfH={90.5} r={2} grey={greyGenes} greyPoly={greyCore} core={innateCore} red={innateGenes} orange={innateCyto} orangeCore={innateCytoCore} />
      <Rose cx={489.3} cy={619.3} R={94.7} lengths={roseImmune} />
      <Rose cx={489.3} cy={905} R={94.6} lengths={roseInnate} />

      <Triwise cx={799.5} cy={608} halfW={114.7} halfH={99} r={2.2} grey={greyGenes} greyPoly={greyCore} red={cytokineGenes} orange={cytokineOrange} orangeCore={cytokineCytoCore} />
      <Rose cx={1119.3} cy={612.7} R={103} lengths={roseCytokine} />

      <Heatmap />

      <BoxPanel big axisX={712.7} endX={943} firstX={760} stepX={68.4} top={1043} bottom={1197} domain={[1, 100000]} labels cats={cellTypes} boxes={il6Total} minor={false} />
      <BoxPanel big comma axisX={1120.4} endX={1351.5} firstX={1167.5} stepX={68.7} top={1043} bottom={1194} domain={[0.1, 10000]} labels cats={cellTypes} boxes={tnfTotal} minor={false} />

      {rows.map((row, r) =>
        columns.map((col, c) => (
          <BoxPanel key={`${r}-${c}`} {...col} top={row.top} bottom={row.bottom} domain={row.domain} cats={stimuli} boxes={row.data[c]} />
        )),
      )}

      <Annotations />
    </div>
  )
}
